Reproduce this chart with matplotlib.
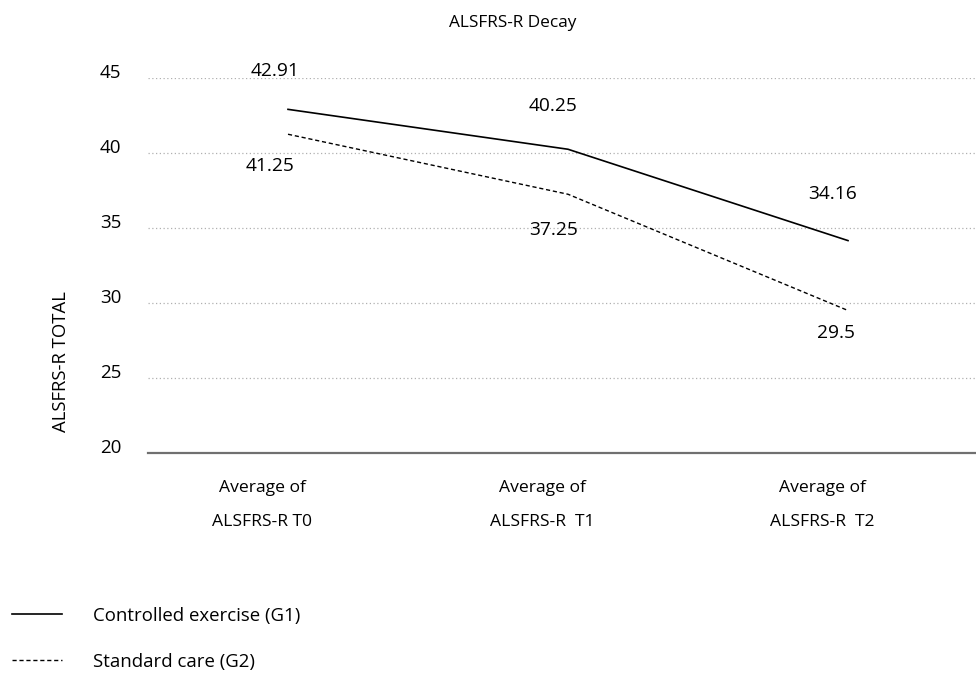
import matplotlib
matplotlib.use("Agg")
import matplotlib.pyplot as plt
import matplotlib.transforms as mtransforms

# ALSFRS-R totals, averaged per time point
timepoints = ["Average of\nALSFRS-R T0", "Average of\nALSFRS-R  T1", "Average of\nALSFRS-R  T2"]
g1_exercise = [42.91, 40.25, 34.16]
g2_standard = [41.25, 37.25, 29.5]
g1_name = "Controlled exercise (G1)"
g2_name = "Standard care (G2)"
y_ticks = [20, 25, 30, 35, 40, 45]

plt.rcParams["font.family"] = ["Open Sans", "DejaVu Sans"]

fig = plt.figure(figsize=(9.76, 6.78), dpi=100)
W, H = 976, 678
ax = fig.add_axes([148 / W, (H - 453) / H, 840 / W, 375 / H])

x = range(len(timepoints))
l1, = ax.plot(x, g1_exercise, color="black", lw=1.2, label=g1_name)
l2, = ax.plot(x, g2_standard, color="black", lw=1.0, ls=(0, (3, 2)), label=g2_name)

ax.set_xlim(-0.5, 2.5)
ax.set_ylim(20, 45)
ax.set_yticks(y_ticks)
ax.grid(axis="y", ls=(0, (1, 2)), color="#b0b0b0", lw=0.9)
for s in ["top", "right", "left"]:
    ax.spines[s].set_visible(False)
ax.spines["bottom"].set_color("#707070")
ax.spines["bottom"].set_linewidth(1.6)
ax.tick_params(axis="both", length=0)
ax.tick_params(axis="y", labelsize=13.5, pad=19)
up = mtransforms.ScaledTranslation(0, 7 / 100, fig.dpi_scale_trans)
for lab in ax.get_yticklabels():
    lab.set_transform(lab.get_transform() + up)

ax.set_xticks(list(x))
ax.set_xticklabels(timepoints, fontsize=12.6, linespacing=2.5)
shift = mtransforms.ScaledTranslation(-26 / 100, -22 / 100, fig.dpi_scale_trans)
for lab in ax.get_xticklabels():
    lab.set_transform(lab.get_transform() + shift)

# value labels: G1 above the line, G2 below
g1_off = [(-13, 38), (-15, 43), (-15, 47)]
g2_off = [(-18, -32), (-14, -36), (-12, -22)]
for i, v in enumerate(g1_exercise):
    ax.annotate(f"{v:g}", (i, v), xytext=g1_off[i], textcoords="offset pixels",
                ha="center", va="center", fontsize=13.8)
for i, v in enumerate(g2_standard):
    ax.annotate(f"{v:g}", (i, v), xytext=g2_off[i], textcoords="offset pixels",
                ha="center", va="center", fontsize=13.8)

ax.set_ylabel("ALSFRS-R TOTAL", fontsize=13.3)
ax.yaxis.set_label_coords(-78 / 840, 0.243)

fig.text(513 / W, 1 - 23 / H, "ALSFRS-R Decay", ha="center", va="center", fontsize=12.4)

fig.legend(handles=[l1, l2], loc="upper left", bbox_to_anchor=(12 / W, 1 - 607 / H),
           frameon=False, fontsize=13.4, handlelength=2.7, handletextpad=1.65,
           labelspacing=1.5, borderpad=0, borderaxespad=0)

fig.savefig("out.png", dpi=100)
